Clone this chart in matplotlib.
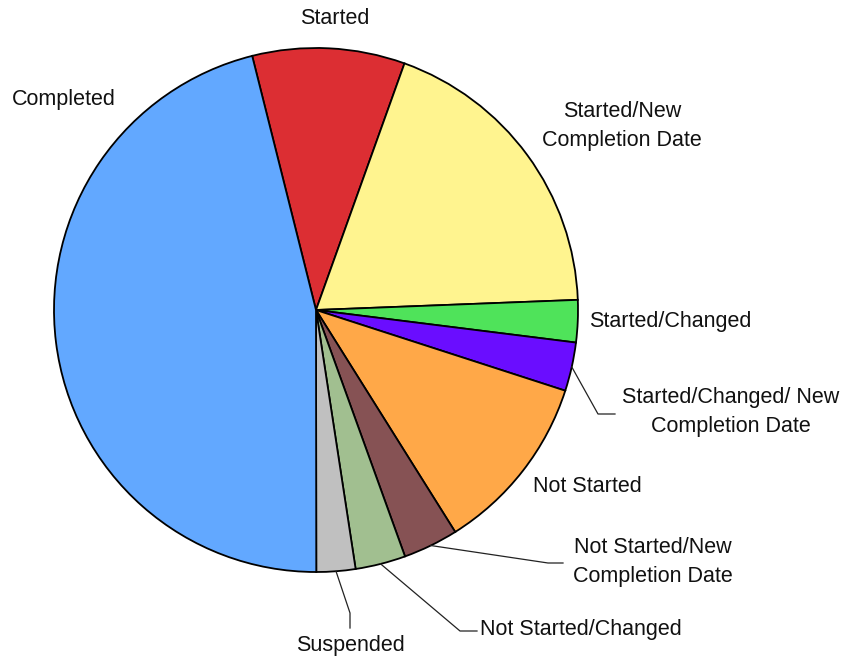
import numpy as np
import matplotlib.pyplot as plt

plt.rcParams['font.family'] = ['Liberation Sans', 'DejaVu Sans']

# Share of tasks by status (percent), clockwise from the top
labels = ["Started", "Started/New\nCompletion Date", "Started/Changed",
          "Started/Changed/ New\nCompletion Date", "Not Started",
          "Not Started/New\nCompletion Date", "Not Started/Changed",
          "Suspended", "Completed"]
shares = [9.4, 18.9, 2.6, 3.0, 11.1, 3.4, 3.1, 2.4, 46.1]
colors = ["#DC2E33", "#FFF48F", "#4FE35A", "#6A0DFF", "#FFA848",
          "#865254", "#A1BF90", "#C0C0C0", "#62A8FF"]

W, H = 858, 658
cx, cy, r = 316, H - 310, 262

fig = plt.figure(figsize=(W / 100, H / 100), dpi=100)
ax = fig.add_axes([0, 0, 1, 1])

wedges, _ = ax.pie(shares, colors=colors, startangle=104.1, counterclock=False,
                   center=(cx, cy), radius=r,
                   wedgeprops=dict(edgecolor='black', linewidth=1.3))
ax.set_xlim(0, W)
ax.set_ylim(0, H)
ax.set_aspect('equal')
ax.axis('off')

# label placement (pixel coords from top-left): text centre, alignment,
# and optional elbow points of a leader line
place = [
    ((335, 18), 'center', None),
    ((622, 126), 'center', None),
    ((589, 321), 'left', None),
    ((731, 412), 'center', [(598, 414), (615, 414)]),
    ((533, 487), 'left', None),
    ((653, 562), 'center', [(548, 563), (563, 563)]),
    ((480, 629), 'left', [(460, 631), (477, 631)]),
    ((350, 646), 'center', [(350, 613), (350, 628)]),
    ((12, 100), 'left', None),
]

for w, lab, (pos, ha, elbow) in zip(wedges, labels, place):
    ax.text(pos[0], H - pos[1], lab, ha=ha, va='center', fontsize=15.5,
            linespacing=1.45, color='#111111')
    if elbow:
        a = np.deg2rad((w.theta1 + w.theta2) / 2)
        xs = [cx + r * np.cos(a)] + [p[0] for p in elbow]
        ys = [cy + r * np.sin(a)] + [H - p[1] for p in elbow]
        ax.plot(xs, ys, color='#222222', lw=0.9)

fig.savefig("out.png", dpi=100, facecolor='white')
